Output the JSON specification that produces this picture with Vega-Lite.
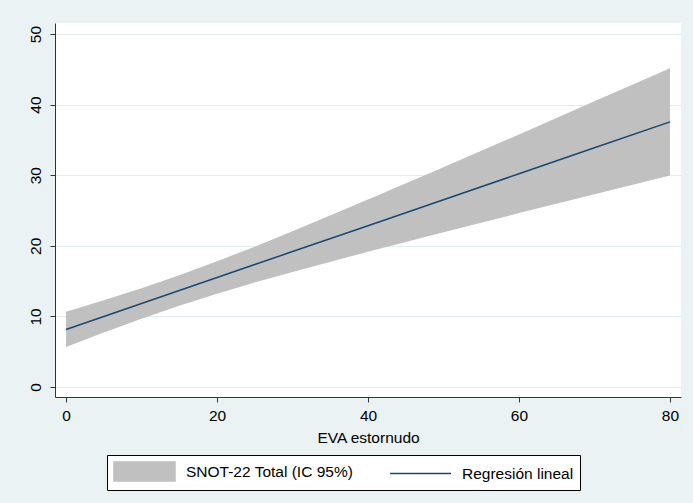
{
  "$schema": "https://vega.github.io/schema/vega-lite/v6.json",
  "width": 626,
  "height": 374,
  "autosize": "none",
  "padding": {"left": 55, "top": 23, "right": 12, "bottom": 106},
  "background": "#eaf2f3",
  "config": {
    "view": {"fill": "white", "stroke": null},
    "font": "Liberation Sans",
    "axis": {
      "labelFont": "Liberation Sans",
      "titleFont": "Liberation Sans",
      "labelFontSize": 15.5,
      "titleFontSize": 15.5,
      "titleFontWeight": "normal",
      "labelColor": "#000",
      "titleColor": "#000",
      "domainColor": "#333",
      "tickColor": "#333",
      "tickSize": 5
    }
  },
  "data": {
    "values": [
      {"x": 0, "fit": 8.15, "lo": 5.65, "hi": 10.65},
      {"x": 5, "fit": 9.99, "lo": 7.7, "hi": 12.28},
      {"x": 10, "fit": 11.83, "lo": 9.67, "hi": 13.98},
      {"x": 15, "fit": 13.66, "lo": 11.5, "hi": 15.82},
      {"x": 20, "fit": 15.5, "lo": 13.19, "hi": 17.81},
      {"x": 25, "fit": 17.34, "lo": 14.8, "hi": 19.88},
      {"x": 30, "fit": 19.18, "lo": 16.29, "hi": 22.06},
      {"x": 40, "fit": 22.85, "lo": 19.16, "hi": 26.54},
      {"x": 50, "fit": 26.53, "lo": 21.92, "hi": 31.13},
      {"x": 60, "fit": 30.2, "lo": 24.63, "hi": 35.78},
      {"x": 70, "fit": 33.88, "lo": 27.3, "hi": 40.46},
      {"x": 80, "fit": 37.55, "lo": 29.95, "hi": 45.15}
    ]
  },
  "encoding": {
    "x": {
      "field": "x",
      "type": "quantitative",
      "scale": {"domain": [-1.46, 81.46], "nice": false, "zero": false},
      "axis": {"values": [0, 20, 40, 60, 80], "title": "EVA estornudo", "grid": false, "labelPadding": 6, "titlePadding": 7}
    }
  },
  "layer": [
    {
      "mark": {"type": "area", "opacity": 1},
      "encoding": {
        "y": {
          "field": "lo",
          "type": "quantitative",
          "scale": {"domain": [-1.42, 51.56], "nice": false, "zero": false},
          "axis": {"values": [0, 10, 20, 30, 40, 50], "title": null, "labelAngle": -90, "labelAlign": "center", "labelBaseline": "bottom", "labelPadding": 7, "grid": true, "gridColor": "#e3ecef", "gridWidth": 1}
        },
        "y2": {"field": "hi"},
        "color": {
          "datum": "SNOT-22 Total (IC 95%)",
          "type": "nominal",
          "scale": {"domain": ["SNOT-22 Total (IC 95%)", "Regresión lineal"], "range": ["#c0c0c0", "#1a476f"]},
          "legend": {
            "orient": "none",
            "legendX": 52,
            "legendY": 432,
            "direction": "horizontal",
            "columns": 2,
            "title": null,
            "fillColor": "white",
            "strokeColor": "#000",
            "padding": 6,
            "columnPadding": 33,
            "labelOffset": 52,
            "labelFont": "Liberation Sans",
            "labelFontSize": 15.5,
            "labelColor": "#000",
            "labelLimit": 400,
            "symbolSize": 361,
            "symbolOpacity": 1,
            "encode": {
              "symbols": {
                "update": {
                  "shape": {"signal": "datum.value === 'Regresión lineal' ? 'M-1,0H5.42' : 'M-1,-1H5.42V1H-1Z'"},
                  "fill": {"signal": "datum.value === 'Regresión lineal' ? 'transparent' : '#c0c0c0'"},
                  "stroke": {"signal": "datum.value === 'Regresión lineal' ? '#1a476f' : 'transparent'"},
                  "strokeWidth": {"value": 1.5}
                }
              }
            }
          }
        }
      }
    },
    {
      "mark": {"type": "line", "strokeWidth": 1.5},
      "encoding": {
        "y": {"field": "fit", "type": "quantitative"},
        "color": {"datum": "Regresión lineal", "type": "nominal"}
      }
    }
  ]
}
